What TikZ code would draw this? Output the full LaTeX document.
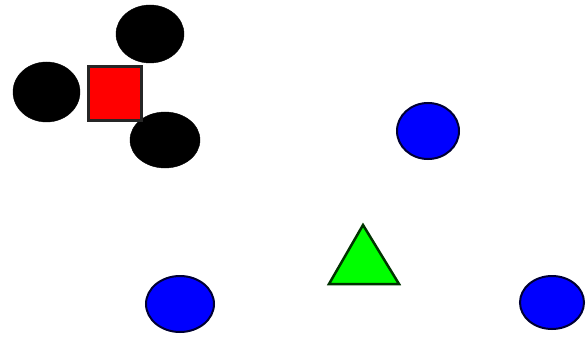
\documentclass[tikz,border=0pt]{standalone}
\usetikzlibrary{shapes.geometric}
\begin{document}
\begin{tikzpicture}[x=1pt,y=-1pt,
  blackdot/.style={ellipse,fill=black,draw=black,inner sep=0pt},
  bluedot/.style={ellipse,fill=blue,draw=black!80!blue,line width=2pt,inner sep=0pt},
  redsq/.style={rectangle,fill=red,draw=black!85,line width=3pt,inner sep=0pt},
  greentri/.style={fill=green,draw=black!80!green,line width=2.5pt,line join=miter}]
\useasboundingbox (0,0) rectangle (587,337);
\fill[white] (0,0) rectangle (587,337);
\node[blackdot,minimum width=68pt,minimum height=58pt] (b1) at (150,34) {};
\node[blackdot,minimum width=67pt,minimum height=60pt] (b2) at (46.5,92) {};
\node[blackdot,minimum width=70pt,minimum height=56pt] (b3) at (165,140) {};
\node[redsq,minimum width=53pt,minimum height=54pt] (r) at (115,93.5) {};
\node[bluedot,minimum width=62pt,minimum height=56pt] (u1) at (428,131) {};
\node[bluedot,minimum width=64pt,minimum height=53pt] (u2) at (552,302.5) {};
\node[bluedot,minimum width=68pt,minimum height=56pt] (u3) at (180,304) {};
\coordinate (t1) at (363,225);
\coordinate (t2) at (399,284);
\coordinate (t3) at (329,284);
\draw[greentri] (t1) -- (t2) -- (t3) -- cycle;
\end{tikzpicture}
\end{document}
